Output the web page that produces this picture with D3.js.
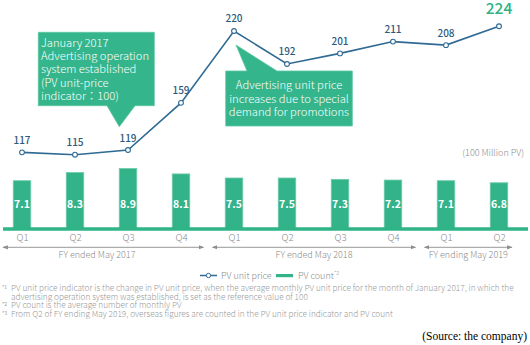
<!DOCTYPE html>
<html><head><meta charset="utf-8">
<script src="https://cdn.jsdelivr.net/npm/d3@7"></script>
<style>
html,body{margin:0;padding:0;background:#fff;}
svg{display:block;font-family:"Noto Sans CJK JP","Noto Sans",sans-serif;}
</style></head>
<body>
<script>
const quarters = ["Q1","Q2","Q3","Q4","Q1","Q2","Q3","Q4","Q1","Q2"];
const priceIndex = [117,115,119,159,220,192,201,211,208,224];
const pvCount = [7.1,8.3,8.9,8.1,7.5,7.5,7.3,7.2,7.1,6.8];
const fiscalYears = ["FY ended May 2017","FY ended May 2018","FY ending May 2019"];
const fyStart = [0,4,8];
const fyEnd = [3,7,9];
const callout1 = ["January 2017","Advertising operation","system established","(PV unit-price","indicator\uFF1A100)"];
const callout2 = ["Advertising unit price","increases due to special","demand for promotions"];
const footnotes = [
 ["*1","PV unit price indicator is the change in PV unit price, when the average monthly PV unit price for the month of January 2017, in which the"],
 ["","advertising operation system was established, is set as the reference value of 100"],
 ["*2","PV count is the average number of monthly PV"],
 ["*3","From Q2 of FY ending May 2019, overseas figures are counted in the PV unit price indicator and PV count"]
];

const W=530,H=345;
const green="#33b38a", greenLight="#6fcaa9", blue="#2f6a94", gray="#8a8a8a";
const svg=d3.select("body").append("svg").attr("width",W).attr("height",H);

const idx=d3.range(quarters.length);
const x=d3.scalePoint().domain(idx).range([22,499]);
const yP=d3.scaleLinear().domain([100,230]).range([172.4,19.2]);
const yB=d3.scaleLinear().domain([0,10]).range([229,161]);

// bars
const bw=17.5;
svg.selectAll("rect.bar").data(pvCount).join("rect").attr("class","bar")
 .attr("x",(d,i)=>x(i)-bw/2).attr("y",d=>yB(d)).attr("width",bw).attr("height",d=>yB(0)-yB(d))
 .attr("fill",green).attr("stroke",greenLight).attr("stroke-width",0.8);
svg.selectAll("text.bl").data(pvCount).join("text").attr("class","bl")
 .attr("x",(d,i)=>x(i)).attr("y",208.3).attr("text-anchor","middle")
 .attr("fill","#fff").attr("font-size",10.5).attr("font-weight",700).text(d=>d.toFixed(1));
// baseline
svg.append("line").attr("x1",3).attr("x2",528).attr("y1",yB(0)).attr("y2",yB(0))
 .attr("stroke","#2fb487").attr("stroke-width",3.5);

// quarter axis
const ax=d3.axisBottom(x).tickSize(0).tickPadding(0).tickFormat(i=>quarters[i]);
const g=svg.append("g").attr("transform",`translate(0,${yB(0)+3})`).call(ax);
g.select(".domain").remove();
g.selectAll("text").attr("fill",gray).attr("font-size",9.6).attr("font-weight",300).attr("font-family","'Noto Sans CJK JP',sans-serif").attr("dy","0.9em");

// FY arrows
const defs=svg.append("defs");
defs.append("marker").attr("id","ah").attr("viewBox","0 0 10 10").attr("refX",9).attr("refY",5)
 .attr("markerWidth",6).attr("markerHeight",6).attr("orient","auto-start-reverse")
 .append("path").attr("d","M0,1L10,5L0,9Z").attr("fill","#8d8d8d");
const step=x.step();
fiscalYears.forEach((fy,k)=>{
  const x1=Math.max(3,x(fyStart[k])-step/2+5);
  const x2=k===fiscalYears.length-1 ? x(fyEnd[k])+13 : x(fyEnd[k])+step/2-4;
  svg.append("line").attr("x1",x1).attr("x2",x2).attr("y1",247.3).attr("y2",247.3)
   .attr("stroke","#8d8d8d").attr("stroke-width",0.9)
   .attr("marker-start","url(#ah)").attr("marker-end","url(#ah)");
  svg.append("text").attr("x",k===0?97:(x1+x2)/2).attr("y",257.8).attr("text-anchor","middle")
   .attr("fill",gray).attr("font-size",9).attr("font-weight",300).text(fy);
});

// line
const line=d3.line().x((d,i)=>x(i)).y(d=>yP(d));
svg.append("path").datum(priceIndex).attr("d",line).attr("fill","none").attr("stroke",blue).attr("stroke-width",1.6);
svg.selectAll("circle.pt").data(priceIndex).join("circle").attr("class","pt")
 .attr("cx",(d,i)=>x(i)).attr("cy",d=>yP(d)).attr("r",2.4)
 .attr("fill","#fff").attr("stroke",blue).attr("stroke-width",1.1);
const last=priceIndex.length-1;
svg.selectAll("text.pl").data(priceIndex).join("text").attr("class","pl")
 .attr("x",(d,i)=>x(i)).attr("y",(d,i)=>i===last?14.4:yP(d)-8.5).attr("text-anchor","middle")
 .attr("fill",(d,i)=>i===last?"#2db386":"#2d5a7c")
 .attr("font-size",(d,i)=>i===last?15.5:10).attr("font-weight",500)
 .text(d=>d);

svg.append("text").attr("x",524).attr("y",155.5).attr("text-anchor","end").attr("fill",gray)
 .attr("font-size",9).attr("font-weight",300).text("(100 Million PV)");

// callouts
const boxFill="#35b58c";
svg.append("path").attr("d","M38.3,32.3H154.3V105.7H135L119.3,126.7L107,105.7H38.3Z")
 .attr("fill",boxFill).attr("stroke","#5cc7a2").attr("stroke-width",0.8);
svg.append("g").selectAll("text").data(callout1).join("text")
 .attr("x",41).attr("y",(d,i)=>46.5+i*13.35).attr("fill","#fff").attr("font-size",11.2).attr("font-weight",300).text(d=>d);

svg.append("path").attr("d","M225.7,71H247L236,45L277,71H352.3V126H225.7Z")
 .attr("fill",boxFill).attr("stroke","#5cc7a2").attr("stroke-width",0.8);
svg.append("g").selectAll("text").data(callout2).join("text")
 .attr("x",289).attr("y",(d,i)=>89.2+i*13.35).attr("text-anchor","middle").attr("fill","#fff").attr("font-size",11.2).attr("font-weight",300).text(d=>d);

// legend
const lg=svg.append("g");
lg.append("line").attr("x1",200).attr("x2",217).attr("y1",275.5).attr("y2",275.5).attr("stroke",blue).attr("stroke-width",1.5);
lg.append("circle").attr("cx",208.5).attr("cy",275.5).attr("r",2.2).attr("fill","#fff").attr("stroke",blue).attr("stroke-width",1);
lg.append("text").attr("x",221).attr("y",278.8).attr("fill",gray).attr("font-size",9).attr("font-weight",300).text("PV unit price");
lg.append("rect").attr("x",276).attr("y",274).attr("width",17).attr("height",3.2).attr("fill",green);
const t2=lg.append("text").attr("x",298).attr("y",278.8).attr("fill",gray).attr("font-size",9).attr("font-weight",300).text("PV count");
t2.append("tspan").attr("font-size",5.5).attr("dy",-3.5).text("*2");

// footnotes
const fg=svg.append("g");
footnotes.forEach((f,i)=>{
  const yy=291+i*8.6;
  if(f[0]) fg.append("text").attr("x",2).attr("y",yy-2).attr("fill","#999").attr("font-size",5).text(f[0]);
  fg.append("text").attr("x",11).attr("y",yy).attr("fill","#999").attr("font-size",8.25).attr("font-weight",300).text(f[1]);
});

svg.append("text").attr("x",527).attr("y",340).attr("text-anchor","end").attr("fill","#000")
 .attr("font-family","'Liberation Serif','Times New Roman',serif").attr("font-size",11.5).text("(Source: the company)");
</script>
</body></html>
